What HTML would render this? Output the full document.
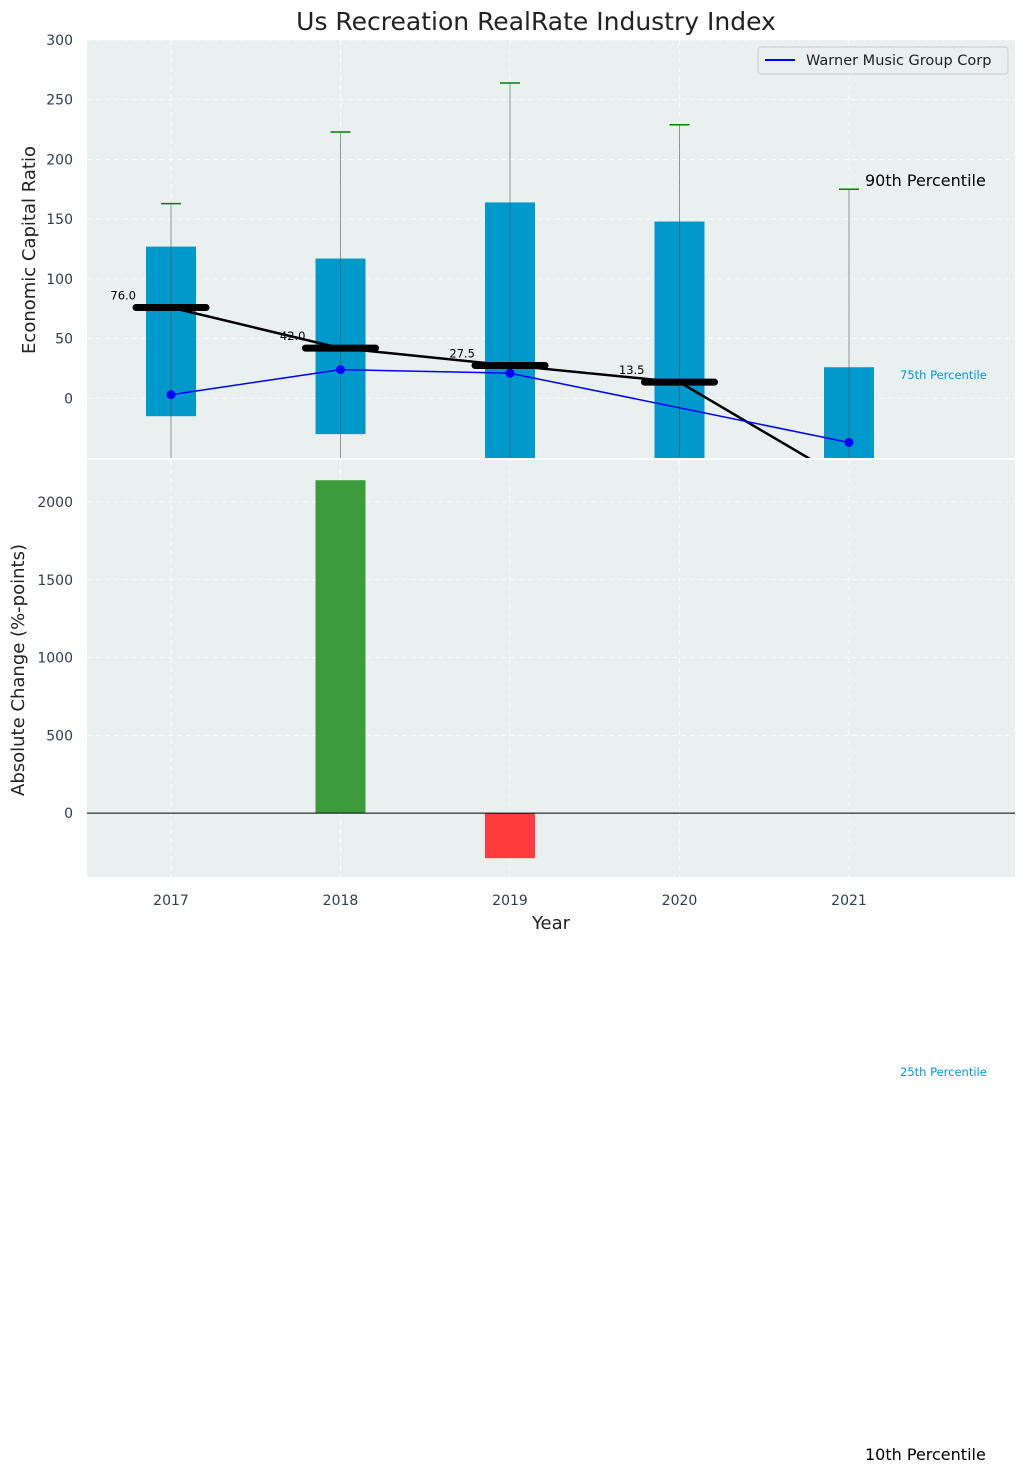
<!DOCTYPE html>
<html><head><meta charset="utf-8"><style>
body{margin:0;background:#fff;}
svg text{font-family:"DejaVu Sans","Liberation Sans",sans-serif;}
</style></head><body>
<svg id="chart" width="1026" height="1473" xmlns="http://www.w3.org/2000/svg">
<defs>
<clipPath id="c1"><rect x="87" y="40" width="928" height="418"/></clipPath>
<clipPath id="c2"><rect x="87" y="460" width="928" height="417"/></clipPath>
</defs>
<g id="g"></g>
</svg>
<script>
const years=[2017,2018,2019,2020,2021];
const q75=[127,117,164,148,26];
const q25=[-15,-30,-80,-80,-80];
const p90=[163,223,264,229,175];
const p10=[-120,-120,-120,-120,-120];
const medians=[76,42,27.5,13.5,-70];
const company=[3,24,21,null,-37];
const changes=[0,2140,-290,0,0];
const topTicks=[0,50,100,150,200,250,300];
const botTicks=[0,500,1000,1500,2000];

const NS="http://www.w3.org/2000/svg";
const g=document.getElementById('g');
function el(t,a,p){const e=document.createElementNS(NS,t);for(const k in a)e.setAttribute(k,a[k]);(p||g).appendChild(e);return e;}
const X=v=>171+(v-2017)*169.5;
const Y1=v=>40+(300-v)*(418/350);
const Y2=v=>460+(2270-v)*(417/2681);

let e=el('rect',{x:87,y:40,width:928,height:418,fill:'#eaeff0'});

e=el('rect',{x:87,y:460,width:928,height:417,fill:'#eaeff0'});


years.forEach(y=>{
 el('line',{x1:X(y),x2:X(y),y1:40,y2:458,stroke:'#fff','stroke-dasharray':'5,4','stroke-width':0.8});
 el('line',{x1:X(y),x2:X(y),y1:460,y2:877,stroke:'#fff','stroke-dasharray':'5,4','stroke-width':0.8});
 e=el('text',{x:X(y),y:905,'font-size':14,fill:'#2d3e50','text-anchor':'middle'});e.textContent=y;
 
});
topTicks.forEach(t=>{
 el('line',{x1:87,x2:1015,y1:Y1(t),y2:Y1(t),stroke:'#fff','stroke-dasharray':'5,4','stroke-width':0.8});
 e=el('text',{x:73,y:Y1(t)+5,'font-size':14,fill:'#2d3e50','text-anchor':'end'});e.textContent=t;
 
});
botTicks.forEach(t=>{
 el('line',{x1:87,x2:1015,y1:Y2(t),y2:Y2(t),stroke:'#fff','stroke-dasharray':'5,4','stroke-width':0.8});
 e=el('text',{x:73,y:Y2(t)+5,'font-size':14,fill:'#2d3e50','text-anchor':'end'});e.textContent=t;
 
});

const t1=el('g',{'clip-path':'url(#c1)'});
years.forEach((y,i)=>{
 e=el('rect',{x:X(y)-25,y:Y1(q75[i]),width:50,height:Y1(q25[i])-Y1(q75[i]),fill:'#0099cc'},t1);
 
 e=el('line',{x1:X(y),x2:X(y),y1:Y1(p90[i]),y2:Y1(p10[i]),stroke:'#555','stroke-width':1,opacity:0.6},t1);
 
 e=el('line',{x1:X(y)-10,x2:X(y)+10,y1:Y1(p90[i]),y2:Y1(p90[i]),stroke:'#008000','stroke-width':1.5},t1);
 
});
let pts=years.map((y,i)=>X(y)+','+Y1(medians[i])).join(' ');
e=el('polyline',{points:pts,fill:'none',stroke:'#000','stroke-width':2.5},t1);

years.forEach((y,i)=>{
 e=el('line',{x1:X(y)-35,x2:X(y)+35,y1:Y1(medians[i]),y2:Y1(medians[i]),stroke:'#000','stroke-width':7,'stroke-linecap':'round'},t1);
 
 e=el('text',{x:X(y)-35,y:Y1(medians[i])-8,'font-size':11.5,fill:'#000','text-anchor':'end'},t1);
 e.textContent=medians[i].toFixed(1);
 
});
const cp=years.map((y,i)=>company[i]==null?null:X(y)+','+Y1(company[i])).filter(p=>p);
e=el('polyline',{points:cp.join(' '),fill:'none',stroke:'#0000ff','stroke-width':1.5},t1);

years.forEach((y,i)=>{if(company[i]==null)return;
 e=el('circle',{cx:X(y),cy:Y1(company[i]),r:4.5,fill:'#0000ff'},t1);
 
});

const t2=el('g',{'clip-path':'url(#c2)'});
years.forEach((y,i)=>{ if(!changes[i])return;
 const v=changes[i];
 e=el('rect',{x:X(y)-25,y:Math.min(Y2(v),Y2(0)),width:50,height:Math.abs(Y2(v)-Y2(0)),fill:v>0?'#3c9c3c':'#ff3b3b'},t2);
 
});
e=el('line',{x1:87,x2:1015,y1:Y2(0),y2:Y2(0),stroke:'#000','stroke-width':1},t2);

el('line',{x1:87,x2:1015,y1:459,y2:459,stroke:'#fff','stroke-width':2});

function txt(x,y,s,sz,fill,name,anchor,rot){const a={x:x,y:y,'font-size':sz,fill:fill,'text-anchor':anchor||'start'};if(rot)a.transform=rot;const t=el('text',a);t.textContent=s;
 return t;}
txt(536,30,'Us Recreation RealRate Industry Index',25,'#222','chart-title','middle');
txt(35,250,'Economic Capital Ratio',18,'#222','top-y-axis-title','middle','rotate(-90 35 250)');
txt(24,670,'Absolute Change (%-points)',18,'#222','bottom-y-axis-title','middle','rotate(-90 24 670)');
txt(551,929,'Year',18,'#222','x-axis-title','middle');
txt(865,186,'90th Percentile',16,'#000','p90-label');
txt(900,379,'75th Percentile',11.5,'#0099cc','p75-label');
txt(900,1076,'25th Percentile',11.5,'#0099cc','p25-label');
txt(865,1460,'10th Percentile',16,'#000','p10-label');

const lg=el('g',{});

el('rect',{x:758,y:47,width:250,height:27,rx:3,fill:'#eaeff0',stroke:'#ccc'},lg);
el('line',{x1:765,x2:795,y1:60,y2:60,stroke:'#0000ff','stroke-width':2},lg);
const lt=el('text',{x:806,y:65,'font-size':14.5,fill:'#222'},lg);lt.textContent='Warner Music Group Corp';

</script>
</body></html>
